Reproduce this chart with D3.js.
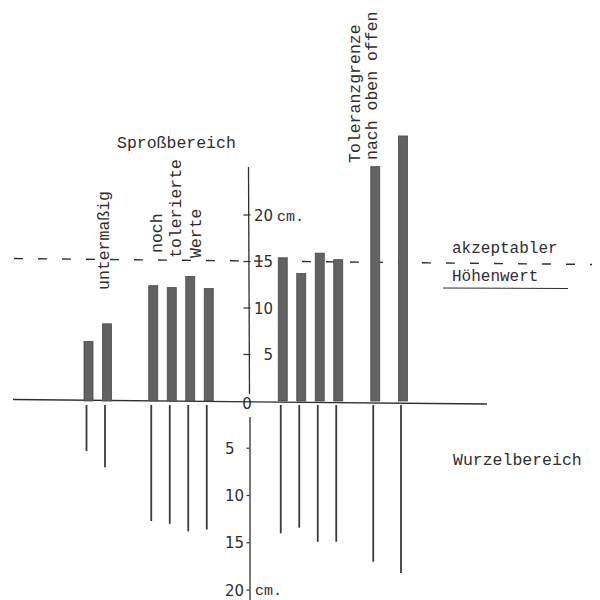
<!DOCTYPE html>
<html><head><meta charset="utf-8">
<script src="https://cdn.jsdelivr.net/npm/d3@7"></script>
<style>body{margin:0;background:#fff}svg{display:block}</style>
</head><body>
<svg id="c" width="600" height="600"></svg>
<script>
// ---- data ----
const plants = ["P1","P2","P3","P4","P5","P6","P7","P8","P9","P10","P11","P12"];
const plantSlot = [0,2,7,9,11,13,21,23,25,27,31,34];      // ordinal slot along the row
const shootCm = [6.4,8.3,12.4,12.2,13.4,12.1,15.4,13.7,15.9,15.2,25.2,28.5];
const rootCm  = [5.3,7.0,12.7,13.0,13.8,13.6,14.0,13.4,14.9,14.9,17.0,18.2];
const upTicks = [5,10,15,20];
const downTicks = [5,10,15,20];
const threshold = 15;
const groupLabels = [
  {text:"untermaßig", slot:2.2, end:290},
  {text:"noch", slot:7.9, end:253},
  {text:"tolerierte", slot:10.0, end:258},
  {text:"Werte", slot:12.2, end:258},
  {text:"Toleranzgrenze", slot:29.3, end:163},
  {text:"nach oben offen", slot:31.2, end:160}
];

// ---- scales ----
const svg = d3.select("#c");
const x = d3.scaleLinear().domain([0,34]).range([88.5,403]);
const yUp = d3.scaleLinear().domain([0,20]).range([401,215]);
const yDown = d3.scaleLinear().domain([0,20]).range([401,590]);
const axisX = 249.5;
const ink = "#2e2e2e";
const mono = "'Liberation Mono','DejaVu Sans Mono',monospace";

// baseline
svg.append("line").attr("x1",13).attr("x2",487).attr("y1",399.5).attr("y2",404)
  .attr("stroke",ink).attr("stroke-width",1.3);

// threshold dashed line
svg.append("line").attr("x1",14).attr("x2",592)
  .attr("y1",yUp(threshold)-3).attr("y2",yUp(threshold)+3)
  .attr("stroke",ink).attr("stroke-width",1.4).attr("stroke-dasharray","9,15");

// upper axis
svg.append("line").attr("x1",axisX-1).attr("x2",axisX).attr("y1",167).attr("y2",394)
  .attr("stroke",ink).attr("stroke-width",1.3);
// lower axis
svg.append("line").attr("x1",axisX+0.5).attr("x2",axisX+0.5).attr("y1",417).attr("y2",600)
  .attr("stroke",ink).attr("stroke-width",1.3);

// bars (shoots)
const bw = 9;
svg.append("g").selectAll("rect").data(plants).join("rect")
  .attr("x",(d,i)=>x(plantSlot[i])-bw/2)
  .attr("y",(d,i)=>yUp(shootCm[i]))
  .attr("width",bw)
  .attr("height",(d,i)=>yUp(0)-yUp(shootCm[i]))
  .attr("fill","#626262").attr("stroke","#4a4a4a").attr("stroke-width",0.8);

// roots
svg.append("g").selectAll("line").data(plants).join("line")
  .attr("x1",(d,i)=>x(plantSlot[i])-2).attr("x2",(d,i)=>x(plantSlot[i])-2)
  .attr("y1",405)
  .attr("y2",(d,i)=>yDown(rootCm[i]))
  .attr("stroke","#3a3a3a").attr("stroke-width",1.8);

// upper tick labels
const gu = svg.append("g").attr("font-family","'DejaVu Sans',sans-serif").attr("font-size",15).attr("fill",ink);
gu.selectAll("text").data(upTicks).join("text")
  .attr("x",273).attr("y",d=>yUp(d)+5.5).attr("text-anchor","end").text(d=>d);
gu.selectAll("line").data(upTicks).join("line")
  .attr("x1",axisX-6).attr("x2",axisX+1).attr("y1",d=>yUp(d)).attr("y2",d=>yUp(d))
  .attr("stroke",ink).attr("stroke-width",1.2);
svg.append("text").attr("x",277).attr("y",yUp(20)+6).attr("font-family",mono)
  .attr("font-size",15).attr("fill",ink).text("cm.");

// zero
svg.append("text").attr("x",axisX-2.5).attr("y",409).attr("text-anchor","middle")
  .attr("font-family","'DejaVu Sans',sans-serif").attr("font-size",15).attr("fill",ink).text("0");

// lower tick labels
const gd = svg.append("g").attr("font-family","'DejaVu Sans',sans-serif").attr("font-size",15).attr("fill",ink);
gd.selectAll("text").data(downTicks).join("text")
  .attr("x",225).attr("y",d=>yDown(d)+5.5).attr("text-anchor","start").text(d=>d);
gd.selectAll("line").data(downTicks).join("line")
  .attr("x1",axisX-3).attr("x2",axisX).attr("y1",d=>yDown(d)).attr("y2",d=>yDown(d))
  .attr("stroke",ink).attr("stroke-width",1.2);
svg.append("text").attr("x",255).attr("y",yDown(20)+5).attr("font-family",mono)
  .attr("font-size",15).attr("fill",ink).text("cm.");

// titles
const tstyle = s => s.attr("font-family",mono).attr("font-size",16.5).attr("fill",ink);
svg.append("text").attr("x",117).attr("y",148).text("Sproßbereich").call(tstyle);
svg.append("text").attr("x",453).attr("y",465).text("Wurzelbereich").call(tstyle);
svg.append("text").attr("x",452).attr("y",253).text("akzeptabler").call(tstyle).attr("font-size",16);
svg.append("text").attr("x",452).attr("y",281).text("Höhenwert").call(tstyle).attr("font-size",16);
svg.append("line").attr("x1",443).attr("x2",568).attr("y1",288).attr("y2",288.5)
  .attr("stroke",ink).attr("stroke-width",1.2);

// vertical group labels
svg.append("g").selectAll("text").data(groupLabels).join("text")
  .attr("transform",d=>`translate(${x(d.slot)},${d.end}) rotate(-90)`)
  .attr("text-anchor","start").text(d=>d.text).call(tstyle);
</script>
</body></html>
